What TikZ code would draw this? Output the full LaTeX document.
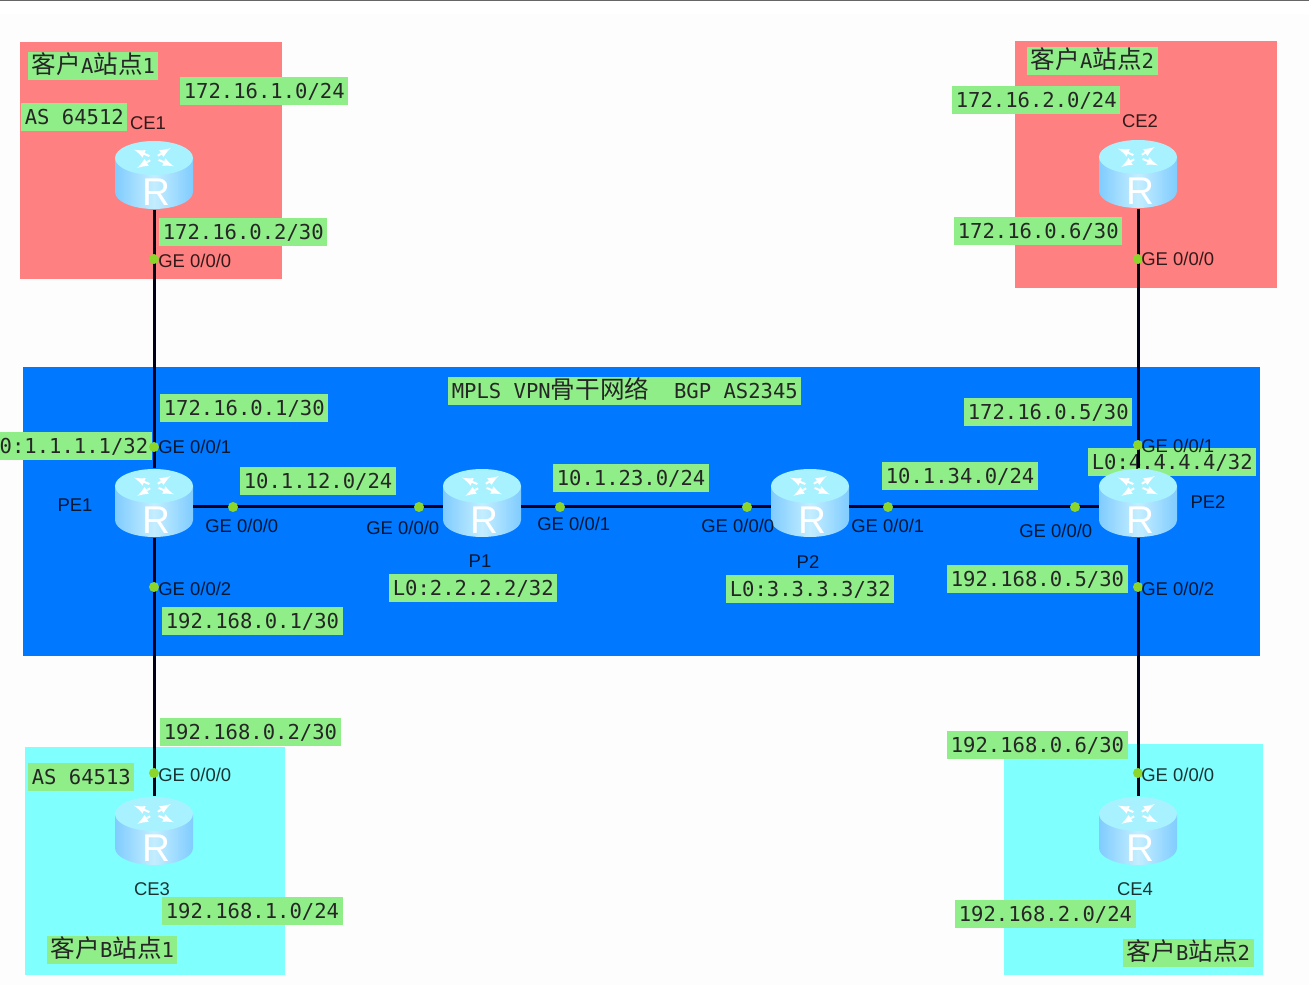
\documentclass[tikz,border=0pt]{standalone}
\usepackage{fontspec}
\setmainfont{Liberation Sans}
\setmonofont{DejaVu Sans Mono}
\newfontfamily\cjk{Noto Sans CJK SC}
\usetikzlibrary{arrows,positioning,calc}

\newcommand{\cjktext}[1]{{\cjk\fontsize{14}{14}\selectfont #1}}

\definecolor{sitered}{HTML}{FF8080}
\definecolor{sitecyan}{HTML}{80FFFF}
\definecolor{coreblue}{HTML}{0078FF}
\definecolor{labelgreen}{HTML}{90EE88}
\definecolor{dotgreen}{HTML}{8CD62C}
\definecolor{routerlight}{HTML}{C4EEFF}
\definecolor{routermid}{HTML}{80CCFF}
\definecolor{routertop}{HTML}{A8F2FF}
\definecolor{pagegrey}{HTML}{FDFDFD}

\tikzset{
  iplabel/.style={anchor=west, fill=labelgreen, font=\ttfamily\fontsize{11.7}{12}\selectfont,
    inner xsep=0.07cm, inner ysep=0pt, minimum height=0.56cm, text height=8.5pt, text depth=0pt,
    text=black!85},
  portlabel/.style={anchor=west, inner sep=0pt, font=\fontsize{10.5}{12}\selectfont, text=black, text opacity=0.8},
  namelabel/.style={inner sep=0pt, font=\fontsize{10.5}{12}\selectfont, text=black, text opacity=0.8},
  portdot/.style={circle, fill=dotgreen, inner sep=0pt, minimum size=0.2cm},
  routerbox/.style={inner sep=0pt, minimum width=1.56cm, minimum height=1.38cm},
  link/.style={line width=0.06cm, black!90!blue},
  routerpic/.pic={
    \path[left color=routermid, right color=routermid, middle color=routerlight]
      (-39,-17) -- (-39,17) arc[start angle=180, end angle=0, x radius=39, y radius=17]
      -- (39,-17) -- cycle;
    \fill[routertop] (0,-17) ellipse[x radius=39, y radius=17];
    % arrows on the lid
    \foreach \a in {40,130,220,310} {
      \draw[white, line width=0.04cm, -latex] ($(0,-17)+(\a:6 and 3)$) -- ($(0,-17)+(\a:26 and 13)$);
    }
    \node[white, inner sep=0pt, font=\fontsize{22}{22}\selectfont] at (2,17) {R};
  }
}

\begin{document}
\begin{tikzpicture}[x=0.02cm,y=-0.02cm]
  \useasboundingbox (0,0) rectangle (1309,999);
  \fill[white] (0,0) rectangle (1309,999);
  \fill[pagegrey] (0,14) rectangle (1309,985);
  \draw[black!60, line width=0.04cm] (0,0.5) -- (1309,0.5);

  % Sites and backbone
  \fill[sitered] (20,42) rectangle (282,279);
  \fill[sitered] (1015,41) rectangle (1277,288);
  \fill[coreblue] (23,367) rectangle (1260,656);
  \fill[sitecyan] (25,747) rectangle (285,975);
  \fill[sitecyan] (1004,744) rectangle (1263,975);

  % Address labels
  \node[iplabel] (siteA1) at (28,66) {\cjktext{客户}A\cjktext{站点}1};
  \node[iplabel] (netA1) at (180,91) {172.16.1.0/24};
  \node[iplabel] (asA) at (21,117) {AS~64512};
  \node[iplabel] (ipCE1) at (159,232) {172.16.0.2/30};
  \node[iplabel] (siteA2) at (1027,61) {\cjktext{客户}A\cjktext{站点}2};
  \node[iplabel] (netA2) at (952,100) {172.16.2.0/24};
  \node[iplabel] (ipCE2) at (954,231) {172.16.0.6/30};
  \node[iplabel] (coreTitle) at (448,391) {MPLS~VPN\cjktext{骨干网络}~~BGP~AS2345};
  \node[iplabel] (ipPE1a) at (160,408) {172.16.0.1/30};
  \node[iplabel, anchor=east] (loPE1) at (152,446) {L0:1.1.1.1/32};
  \node[iplabel] (ipPE2a) at (964,412) {172.16.0.5/30};
  \node[iplabel] (loPE2) at (1088,462) {L0:4.4.4.4/32};
  \node[iplabel] (net12) at (240,481) {10.1.12.0/24};
  \node[iplabel] (net23) at (553,478) {10.1.23.0/24};
  \node[iplabel] (net34) at (882,476) {10.1.34.0/24};
  \node[iplabel] (loP1) at (389,588) {L0:2.2.2.2/32};
  \node[iplabel] (loP2) at (726,589) {L0:3.3.3.3/32};
  \node[iplabel] (ipPE1b) at (162,621) {192.168.0.1/30};
  \node[iplabel] (ipPE2b) at (947,579) {192.168.0.5/30};
  \node[iplabel] (ipCE3) at (160,732) {192.168.0.2/30};
  \node[iplabel] (ipCE4) at (947,745) {192.168.0.6/30};
  \node[iplabel] (asB) at (28,777) {AS~64513};
  \node[iplabel] (netB1) at (162,911) {192.168.1.0/24};
  \node[iplabel] (netB2) at (955,914) {192.168.2.0/24};
  \node[iplabel] (siteB1) at (47,950) {\cjktext{客户}B\cjktext{站点}1};
  \node[iplabel] (siteB2) at (1123,953) {\cjktext{客户}B\cjktext{站点}2};

  % Routers
  \foreach \nm/\px/\py in {CE1/154/175,CE2/1138/174,PE1/154/503,P1/482/503,P2/810/503,PE2/1138/503,CE3/154/831,CE4/1138/831} {
    \node[routerbox] (\nm) at (\px,\py) {};
    \pic at (\nm) {routerpic};
  }

  % Links
  \draw[link] (CE1) -- (PE1);
  \draw[link] (CE2) -- (PE2);
  \draw[link] ($(PE1.east)+(0,4)$) -- ($(P1.west)+(0,4)$);
  \draw[link] ($(P1.east)+(0,4)$) -- ($(P2.west)+(0,4)$);
  \draw[link] ($(P2.east)+(0,4)$) -- ($(PE2.west)+(0,4)$);
  \draw[link] (PE1) -- (CE3);
  \draw[link] (PE2) -- (CE4);

  % Interface dots
  \foreach \nm/\px/\py in {dotA/154/259,dotB/154/447,dotC/154/587,dotD/154/773,dotE/233/507,dotF/419/507,dotG/560/507,dotH/747/507,dotI/888/507,dotJ/1075/507,dotK/1138/259,dotL/1138/445,dotM/1138/587,dotN/1138/773} {
    \node[portdot] (\nm) at (\px,\py) {};
  }

  % Interface names
  \node[portlabel] (geA) at (158,261) {GE 0/0/0};
  \node[portlabel] (geB) at (158,447) {GE 0/0/1};
  \node[portlabel] (geC) at (158,589) {GE 0/0/2};
  \node[portlabel] (geD) at (158,775) {GE 0/0/0};
  \node[portlabel] (geE) at (205,526) {GE 0/0/0};
  \node[portlabel] (geF) at (366,528) {GE 0/0/0};
  \node[portlabel] (geG) at (537,524) {GE 0/0/1};
  \node[portlabel] (geH) at (701,526) {GE 0/0/0};
  \node[portlabel] (geI) at (851,526) {GE 0/0/1};
  \node[portlabel] (geJ) at (1019,531) {GE 0/0/0};
  \node[portlabel] (geK) at (1141,259) {GE 0/0/0};
  \node[portlabel] (geL) at (1141,446) {GE 0/0/1};
  \node[portlabel] (geM) at (1141,589) {GE 0/0/2};
  \node[portlabel] (geN) at (1141,775) {GE 0/0/0};

  % Router names
  \node[namelabel] (nameCE1) at (148,123) {CE1};
  \node[namelabel] (nameCE2) at (1140,121) {CE2};
  \node[namelabel] (namePE1) at (75,505) {PE1};
  \node[namelabel] (namePE2) at (1208,502) {PE2};
  \node[namelabel] (nameP1) at (480,561) {P1};
  \node[namelabel] (nameP2) at (808,562) {P2};
  \node[namelabel] (nameCE3) at (152,889) {CE3};
  \node[namelabel] (nameCE4) at (1135,889) {CE4};
\end{tikzpicture}
\end{document}
